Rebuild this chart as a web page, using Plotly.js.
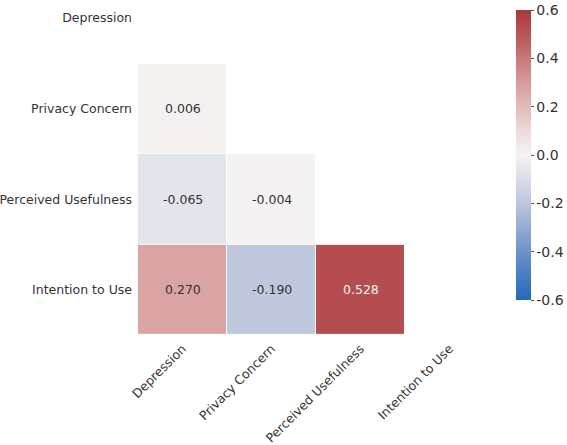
<!DOCTYPE html>
<html>
<head>
<meta charset="utf-8">
<script src="https://cdn.plot.ly/plotly-3.0.1.min.js"></script>
<style>
  html, body { margin: 0; padding: 0; background: #fff; }
  #chart { width: 567px; height: 445px; }
</style>
</head>
<body>
<div id="chart"></div>
<script>
// Variables of the correlation matrix (rows top to bottom, columns left to right)
const variables = ['Depression', 'Privacy Concern', 'Perceived Usefulness', 'Intention to Use'];

// Lower-triangle correlations, one array per row (diagonal and upper triangle masked)
const rowDepression = [null, null, null, null];
const rowPrivacy = [0.006, null, null, null];
const rowUsefulness = [-0.065, -0.004, null, null];
const rowIntention = [0.270, -0.190, 0.528, null];

const colorbarTicks = [-0.6, -0.4, -0.2, 0.0, 0.2, 0.4, 0.6];

const zRows = [rowDepression, rowPrivacy, rowUsefulness, rowIntention];
const idx = variables.map((_, i) => i);

// Diverging blue-white-red palette (seaborn "vlag"-like)
const vlag = [
  [0.00, 'rgb(35,105,189)'],
  [0.10, 'rgb(78,128,196)'],
  [0.20, 'rgb(125,155,206)'],
  [0.333, 'rgb(188,198,220)'],
  [0.42, 'rgb(218,221,232)'],
  [0.50, 'rgb(246,243,243)'],
  [0.60, 'rgb(236,212,212)'],
  [0.75, 'rgb(214,155,155)'],
  [0.90, 'rgb(187,92,94)'],
  [1.00, 'rgb(169,55,59)']
];

const vmin = -0.6, vmax = 0.6;
const labelFont = { family: 'DejaVu Sans', size: 12.5, color: '#333' };

const heat = {
  type: 'heatmap',
  x: idx,
  y: idx,
  z: zRows,
  zmin: vmin,
  zmax: vmax,
  colorscale: vlag,
  xgap: 1,
  ygap: 1,
  hoverongaps: false,
  colorbar: {
    thickness: 15,
    lenmode: 'pixels',
    len: 290,
    x: 1.062,
    xanchor: 'left',
    xpad: 0,
    y: 1 - 10 / 335,
    yanchor: 'top',
    ypad: 0,
    outlinewidth: 0,
    tickvals: colorbarTicks,
    ticktext: colorbarTicks.map(v => v.toFixed(1)),
    ticks: 'outside',
    ticklen: 3,
    tickcolor: '#555',
    tickfont: { family: 'DejaVu Sans', size: 14, color: '#333' }
  }
};

// Value labels inside each unmasked cell
const annotations = [];
zRows.forEach((row, r) => {
  row.forEach((v, c) => {
    if (v === null) return;
    const norm = (v - vmin) / (vmax - vmin);
    annotations.push({
      x: c, y: r, xref: 'x', yref: 'y',
      text: v.toFixed(3),
      showarrow: false,
      font: { family: 'DejaVu Sans', size: 12.5, color: norm > 0.85 ? '#f4f4f4' : '#333' }
    });
  });
});

const layout = {
  width: 567,
  height: 445,
  margin: { l: 138, r: 73, t: 0, b: 110 },
  paper_bgcolor: '#fff',
  plot_bgcolor: '#fff',
  font: { family: 'DejaVu Sans', size: 12.5, color: '#333' },
  xaxis: {
    range: [-0.5, 3.5],
    tickvals: idx,
    ticktext: variables,
    tickangle: -45,
    showgrid: false,
    zeroline: false,
    showline: false,
    ticks: '',
    ticklabelstandoff: 3,
    tickfont: labelFont
  },
  yaxis: {
    range: [3.5, -0.2],
    tickvals: idx,
    ticktext: variables,
    showgrid: false,
    zeroline: false,
    showline: false,
    ticks: '',
    ticklabelstandoff: 5,
    tickfont: labelFont
  },
  annotations: annotations,
  showlegend: false
};

Plotly.newPlot('chart', [heat], layout, { displayModeBar: false, staticPlot: true });
</script>
</body>
</html>
